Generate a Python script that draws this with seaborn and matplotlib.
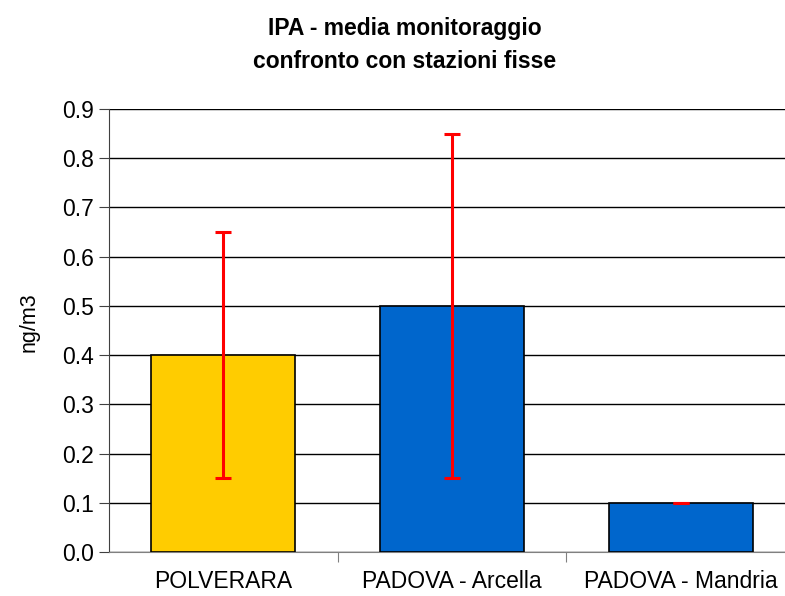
import numpy as np
import pandas as pd
import matplotlib
matplotlib.use("Agg")
import matplotlib.pyplot as plt
import seaborn as sns

# data
stations = ["POLVERARA", "PADOVA - Arcella", "PADOVA - Mandria"]
means = [0.4, 0.5, 0.1]
err = [0.25, 0.35, 0.0]
bar_colors = ["#FFCC00", "#0066CC", "#0066CC"]
y_ticks = [0.0, 0.1, 0.2, 0.3, 0.4, 0.5, 0.6, 0.7, 0.8, 0.9]

sns.set_style("white")
plt.rcParams['font.family'] = ['Liberation Sans', 'DejaVu Sans']
plt.rcParams['text.color'] = 'black'
plt.rcParams['axes.labelcolor'] = 'black'
plt.rcParams['xtick.color'] = 'black'
plt.rcParams['ytick.color'] = 'black'

fig = plt.figure(figsize=(7.85, 5.96), dpi=100)
ax = fig.add_axes([109 / 785, 1 - 552 / 596, (795 - 109) / 785, (552 - 109) / 596])

df = pd.DataFrame({"station": stations, "mean": means})
sns.barplot(data=df, x="station", y="mean", hue="station", palette=bar_colors,
            legend=False, width=0.63, edgecolor="black", linewidth=1.2,
            saturation=1, ax=ax, zorder=3)

xs = np.arange(len(stations))
ax.errorbar(xs, means, yerr=err, fmt="none", ecolor="#FF0000", elinewidth=2.2,
            capsize=6, capthick=2.2, zorder=4)

ax.set_ylim(0, 0.9)
ax.set_xlim(-0.5, 2.5)
ax.set_yticks(y_ticks)
ax.set_yticklabels([f"{v:.1f}" for v in y_ticks], fontsize=16.5)
ax.yaxis.grid(True, color="black", linewidth=1)
ax.set_axisbelow(True)

ax.set_xticks([0.5, 1.5, 2.5])
ax.set_xticklabels([])
ax.set_xticks(xs, minor=True)
ax.set_xticklabels(stations, minor=True, fontsize=16.5)
ax.tick_params(axis="x", which="minor", length=0, pad=13)
ax.tick_params(axis="x", which="major", direction="out", length=7, color="#808080", bottom=True)
ax.tick_params(axis="y", direction="out", length=7, color="#404040", left=True, pad=4)

ax.set_xlabel("")
ax.set_ylabel("ng/m3", fontsize=15.5, labelpad=16)
ax.yaxis.label.set_y(0.519)

for s in ["top", "right"]:
    ax.spines[s].set_visible(False)
ax.spines["left"].set_color("#404040")
ax.spines["bottom"].set_color("#808080")

fig.text(405 / 785, 1 - 45 / 596, "IPA - media monitoraggio\nconfronto con stazioni fisse",
         ha="center", va="center", fontsize=16.5, fontweight="bold", linespacing=1.55)

fig.savefig("out.png", dpi=100, facecolor="white")
